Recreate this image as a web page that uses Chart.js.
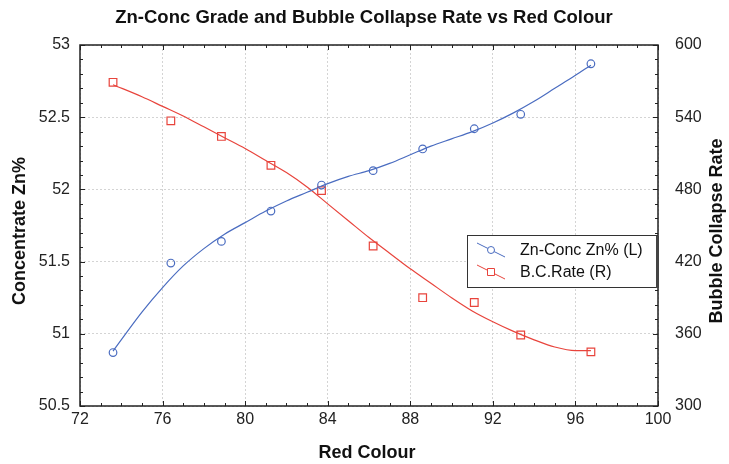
<!DOCTYPE html>
<html>
<head>
<meta charset="utf-8">
<script src="https://cdn.jsdelivr.net/npm/chart.js@4/dist/chart.umd.min.js"></script>
<style>
  html, body { margin: 0; padding: 0; background: #fff; }
  #wrap { width: 729px; height: 464px; }
</style>
</head>
<body>
<div id="wrap"><canvas id="myChart" width="729" height="464"></canvas></div>
<script>
// measured points
var redColour = [73.6, 76.4, 78.85, 81.25, 83.7, 86.2, 88.6, 91.1, 93.35, 96.75];
var znConc = [50.87, 51.49, 51.64, 51.85, 52.03, 52.13, 52.28, 52.42, 52.52, 52.87];
var bcRate = [569, 537, 524, 500, 479, 433, 390, 386, 359, 345];

// fitted curves
var fitX = [73.6, 75, 76, 77, 78, 79, 80, 81, 82, 83, 84, 85, 86, 87, 88, 89, 90, 91, 92, 93, 94, 95, 96, 96.75];
var znFit = [50.88, 51.15, 51.32, 51.47, 51.59, 51.69, 51.77, 51.85, 51.92, 51.98, 52.04, 52.09, 52.13, 52.18, 52.24, 52.3, 52.35, 52.4, 52.46, 52.53, 52.61, 52.7, 52.79, 52.86];
var rateFit = [567, 557, 549, 541, 532, 523, 514, 504, 494, 482, 468, 454, 440, 427, 414, 402, 390, 379, 370, 362, 355, 349, 346, 346];

var legendLabels = ["Zn-Conc Zn% (L)", "B.C.Rate (R)"];

var BLUE = "#4a6cc0";
var RED = "#e8443c";
var FONT = "'Liberation Sans', Arial, sans-serif";

function pts(xs, ys) {
  return xs.map(function (x, i) { return { x: x, y: ys[i] }; });
}

// frame, inward ticks, titles and legend
var decor = {
  id: "decor",
  afterDraw: function (chart) {
    var c = chart.ctx, a = chart.chartArea;
    var sx = chart.scales.x, yl = chart.scales.yL, yr = chart.scales.yR;
    c.save();
    c.strokeStyle = "#222";
    c.lineWidth = 1;
    c.beginPath();
    var v, p, len;
    for (v = 72; v <= 100; v += 1) {
      p = Math.round(sx.getPixelForValue(v)) + 0.5;
      len = v % 4 === 0 ? 5 : 3;
      c.moveTo(p, a.bottom); c.lineTo(p, a.bottom - len);
      c.moveTo(p, a.top); c.lineTo(p, a.top + len);
    }
    for (v = 505; v <= 530; v += 1) {
      p = Math.round(yl.getPixelForValue(v / 10)) + 0.5;
      len = v % 5 === 0 ? 5 : 3;
      c.moveTo(a.left, p); c.lineTo(a.left + len, p);
    }
    for (v = 300; v <= 600; v += 12) {
      p = Math.round(yr.getPixelForValue(v)) + 0.5;
      len = v % 60 === 0 ? 5 : 3;
      c.moveTo(a.right, p); c.lineTo(a.right - len, p);
    }
    c.stroke();

    c.lineWidth = 1.5;
    c.strokeRect(a.left, a.top, a.right - a.left, a.bottom - a.top);

    // titles
    c.fillStyle = "#111";
    c.textAlign = "center";
    c.textBaseline = "middle";
    c.font = "bold 18.5px " + FONT;
    c.fillText("Zn-Conc Grade and Bubble Collapse Rate vs Red Colour", 364, 18);
    c.font = "bold 18px " + FONT;
    c.fillText("Red Colour", 367, 453);
    c.save();
    c.translate(20, 231);
    c.rotate(-Math.PI / 2);
    c.fillText("Concentrate Zn%", 0, 0);
    c.restore();
    c.save();
    c.translate(717, 231);
    c.rotate(-Math.PI / 2);
    c.fillText("Bubble Collapse Rate", 0, 0);
    c.restore();

    // legend
    var lx = 467, ly = 235, lw = 190, lh = 52;
    c.fillStyle = "#fff";
    c.fillRect(lx, ly, lw, lh);
    c.lineWidth = 1;
    c.strokeStyle = "#333";
    c.strokeRect(lx + 0.5, ly + 0.5, lw, lh);
    c.fillStyle = "#444";
    c.fillRect(lx + lw - 1, ly + 1, 3, lh);
    var rows = [ly + 15, ly + 37];
    var cols = [BLUE, RED];
    for (var i = 0; i < 2; i++) {
      var cy = rows[i];
      c.strokeStyle = cols[i];
      c.lineWidth = 1;
      c.beginPath();
      c.moveTo(lx + 10, cy - 7); c.lineTo(lx + 38, cy + 7);
      c.stroke();
      c.fillStyle = "#fff";
      c.beginPath();
      if (i === 0) {
        c.arc(lx + 24, cy, 3.5, 0, Math.PI * 2);
      } else {
        c.rect(lx + 20.5, cy - 3.5, 7, 7);
      }
      c.fill(); c.stroke();
      c.fillStyle = "#111";
      c.textAlign = "left";
      c.font = "16px " + FONT;
      c.fillText(legendLabels[i], lx + 53, cy + 1);
    }
    c.restore();
  }
};

var gridStyle = { color: "#d4d4d4", lineWidth: 1, drawTicks: false };
var tickFont = { family: FONT, size: 16 };

const ctx = document.getElementById("myChart").getContext("2d");
const myChart = new Chart(ctx, {
  type: "scatter",
  data: {
    datasets: [
      {
        label: legendLabels[0],
        data: pts(redColour, znConc),
        yAxisID: "yL",
        showLine: false,
        pointStyle: "circle",
        pointRadius: 3.8,
        pointBorderWidth: 1.2,
        pointBorderColor: BLUE,
        pointBackgroundColor: "rgba(255,255,255,0)",
      },
      {
        label: "znFit",
        data: pts(fitX, znFit),
        yAxisID: "yL",
        showLine: true,
        pointRadius: 0,
        borderColor: BLUE,
        borderWidth: 1.2,
        cubicInterpolationMode: "monotone",
      },
      {
        label: legendLabels[1],
        data: pts(redColour, bcRate),
        yAxisID: "yR",
        showLine: false,
        pointStyle: "rect",
        pointRadius: 5.4,
        pointBorderWidth: 1.2,
        pointBorderColor: RED,
        pointBackgroundColor: "rgba(255,255,255,0)",
      },
      {
        label: "rateFit",
        data: pts(fitX, rateFit),
        yAxisID: "yR",
        showLine: true,
        pointRadius: 0,
        borderColor: RED,
        borderWidth: 1.2,
        cubicInterpolationMode: "monotone",
      },
    ],
  },
  options: {
    responsive: false,
    animation: false,
    layout: { padding: { top: 45 } },
    plugins: { legend: { display: false }, tooltip: { enabled: false } },
    scales: {
      x: {
        type: "linear",
        min: 72, max: 100,
        ticks: { stepSize: 4, color: "#222", font: tickFont, padding: 4 },
        grid: gridStyle,
        border: { display: false, dash: [2, 2] },
        afterFit: function (s) { s.height = 58; },
      },
      yL: {
        type: "linear",
        position: "left",
        min: 50.5, max: 53,
        ticks: {
          stepSize: 0.5, color: "#222", font: tickFont, padding: 10,
          callback: function (v) { return String(Math.round(v * 10) / 10); },
        },
        grid: gridStyle,
        border: { display: false, dash: [2, 2] },
        afterFit: function (s) { s.width = 80; },
      },
      yR: {
        type: "linear",
        position: "right",
        min: 300, max: 600,
        ticks: { stepSize: 60, color: "#222", font: tickFont, padding: 9 },
        grid: { display: false },
        border: { display: false },
        afterFit: function (s) { s.width = 71; },
      },
    },
  },
  plugins: [decor],
});
</script>
</body>
</html>
